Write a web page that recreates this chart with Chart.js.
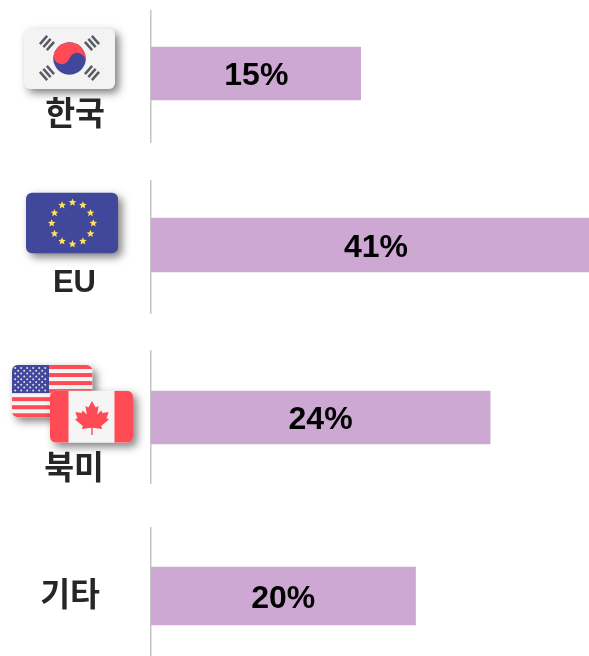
<!DOCTYPE html>
<html lang="ko">
<head>
<meta charset="utf-8">
<script src="https://cdn.jsdelivr.net/npm/chart.js@4"></script>
<style>
html,body{margin:0;padding:0;background:#fff;width:589px;height:656px;overflow:hidden}
.row{position:absolute;left:0;width:601px}
.row canvas{display:block}
</style>
</head>
<body>
<script>
// Data
const categories = ['한국', 'EU', '북미', '기타'];
const shareLabels = ['15%', '41%', '24%', '20%'];
// Drawn bar lengths are not proportional to the printed shares in the source
const drawnLengths = [19.1, 41, 30.9, 24.1];
const axisMax = 41;
const flags = ['kr', 'eu', 'na', null];

// Layout of each small panel (top/height symmetrical about the bar; clip trims the axis line)
const panels = [
  {top:4,   h:139, clipT:6, clipB:0, thick:53, labelDy:43, pad:46, size:32.5, dx:0.5},
  {top:176, h:138, clipT:4, clipB:0, thick:54, labelDy:38, pad:55, size:31, dx:0},
  {top:350, h:135, clipT:0, clipB:1, thick:53, labelDy:53, pad:47, size:32.5, dx:0},
  {top:527, h:138, clipT:0, clipB:0, thick:58, labelDy:1, pad:51, size:32.5, dx:0}
];

const RED='#ff4b55', BLUE='#41479b', WHITE='#f5f5f5';

function rr(c,x,y,w,h,r){c.beginPath();c.roundRect(x,y,w,h,r);}
function card(c,x,y,w,h,fill,paint){
  c.save();
  c.shadowColor='rgba(0,0,0,0.5)';c.shadowBlur=8;c.shadowOffsetX=4;c.shadowOffsetY=4;
  c.fillStyle=fill;rr(c,x,y,w,h,6);c.fill();
  c.restore();
  if(paint){c.save();rr(c,x,y,w,h,6);c.clip();paint();c.restore();}
}
function star(c,x,y,r){
  c.beginPath();
  for(let i=0;i<10;i++){
    const a=-Math.PI/2+i*Math.PI/5, q=i%2?r*0.45:r;
    c.lineTo(x+q*Math.cos(a),y+q*Math.sin(a));
  }
  c.closePath();c.fill();
}
function trigram(c,cx,cy,angle){
  c.save();c.translate(cx,cy);c.rotate(angle);c.fillStyle='#5a5a64';
  for(let i=0;i<3;i++){
    c.fillRect(-5.5,(i-1)*4.6-1.25,11,2.5);
  }
  c.restore();
}
function drawKorea(c){
  card(c,24,28.5,91,60.5,'#f3f3f3');
  const cx=69.5,cy=58.5,r=16.2;
  c.save();c.translate(cx,cy);c.rotate(0.3);
  c.fillStyle=BLUE;c.beginPath();c.arc(0,0,r,0,Math.PI*2);c.fill();
  c.fillStyle=RED;c.beginPath();c.arc(0,0,r,Math.PI,0);c.fill();
  c.beginPath();c.arc(-r/2,0,r/2,0,Math.PI*2);c.fill();
  c.fillStyle=BLUE;c.beginPath();c.arc(r/2,0,r/2,0,Math.PI*2);c.fill();
  c.restore();
  const a=0.85;
  trigram(c,47,43,-a);
  trigram(c,92,43,a);
  trigram(c,47,73,a);
  trigram(c,92,73,-a);
}
function drawEU(c){
  card(c,26,192.7,92,60.6,BLUE);
  c.fillStyle='#ffe15a';
  for(let i=0;i<12;i++){
    const a=i*Math.PI/6;
    star(c,72.5+20.8*Math.cos(a),223.3+20.8*Math.sin(a),4);
  }
}
function drawNorthAmerica(c){
  const x=12,y=365,w=80.5,h=52.3;
  card(c,x,y,w,h,WHITE,()=>{
    c.fillStyle=RED;
    for(let i=0;i<13;i+=2)c.fillRect(x,y+i*h/13,w,h/13);
    c.fillStyle=BLUE;c.fillRect(x,y,37,28);
    c.fillStyle='#dfe0ee';
    for(let r=0;r<9;r++){
      const n=r%2?5:6;
      for(let k=0;k<n;k++){
        c.beginPath();
        c.arc(x+3.2+(r%2?3:0)+k*6,y+3+r*2.8,1,0,Math.PI*2);c.fill();
      }
    }
  });
  const X=50,Y=390.7,W=83,H=52;
  card(c,X,Y,W,H,WHITE,()=>{
    c.fillStyle=RED;c.fillRect(X,Y,18.5,H);c.fillRect(X+64.5,Y,18.5,H);
  });
  // maple leaf
  const half=[[0,-17],[3.6,-10.5],[6.6,-12],[5.2,-3.6],[9.2,-7.6],[10.4,-5],[16.6,-6],[14.6,0.2],[17,1.6],[9.2,8],[10.2,11],[0.7,9.8],[0.7,17],[0,17]];
  const mx=92,my=418;
  c.fillStyle=RED;c.beginPath();
  half.forEach(p=>c.lineTo(mx+p[0],my+p[1]));
  half.slice().reverse().forEach(p=>c.lineTo(mx-p[0],my+p[1]));
  c.closePath();c.fill();
}
const flagPainters={kr:drawKorea,eu:drawEU,na:drawNorthAmerica};

const decoration={
  id:'decoration',
  beforeDraw(chart,args,o){
    const c=chart.ctx;
    if(flags[o.i]){
      c.save();c.translate(0,-panels[o.i].top);
      flagPainters[flags[o.i]](c);
      c.restore();
    }
  },
  afterDraw(chart,args,o){
    const c=chart.ctx, bar=chart.getDatasetMeta(0).data[0];
    c.save();
    c.font='bold 32px "Liberation Sans", Arial, sans-serif';
    c.fillStyle='#000';c.textAlign='center';c.textBaseline='middle';
    c.fillText(shareLabels[o.i],(bar.base+bar.x)/2+panels[o.i].dx,bar.y+3);
    c.restore();
  }
};

categories.forEach((name,i)=>{
  const p=panels[i];
  const row=document.createElement('div');
  row.className='row';
  row.style.top=p.top+'px';row.style.height=p.h+'px';
  row.style.clipPath=`inset(${p.clipT}px 0 ${p.clipB}px 0)`;
  const cv=document.createElement('canvas');
  row.appendChild(cv);document.body.appendChild(row);
  new Chart(cv,{
    type:'bar',
    data:{labels:[name],datasets:[{data:[drawnLengths[i]],backgroundColor:'#cca8d2',borderWidth:0,barThickness:p.thick}]},
    plugins:[decoration],
    options:{
      indexAxis:'y',responsive:true,maintainAspectRatio:false,animation:false,
      layout:{padding:0},
      plugins:{legend:{display:false},tooltip:{enabled:false},title:{display:false},decoration:{i}},
      scales:{
        x:{display:false,min:0,max:axisMax},
        y:{
          afterFit(s){s.width=151;s.paddingTop=0;s.paddingBottom=0;s.paddingLeft=0;s.paddingRight=0;},
          grid:{display:true,drawOnChartArea:false,drawTicks:false},
          border:{display:true,color:'#c4c4c4',width:1.5},
          ticks:{padding:p.pad,labelOffset:p.labelDy,color:'#262626',
            font:{family:'"Liberation Sans","Noto Sans CJK KR",sans-serif',size:p.size,weight:'bold'}}
        }
      }
    }
  });
});
</script>
</body>
</html>
